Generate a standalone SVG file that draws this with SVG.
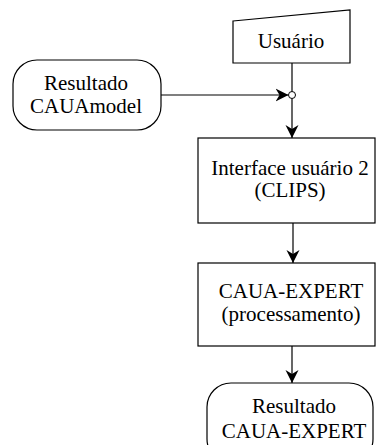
<svg xmlns="http://www.w3.org/2000/svg" width="376" height="445" viewBox="0 0 376 445">
<style>
.s{fill:#fff;stroke:#000;stroke-width:1.2}
.t{font-family:'Liberation Serif','DejaVu Serif',serif;font-size:21px;fill:#000;text-anchor:middle}
.c{fill:none;stroke:#000;stroke-width:1.2}
</style>
<defs>
<marker id="a" markerWidth="14" markerHeight="14" refX="13" refY="7" orient="auto" markerUnits="userSpaceOnUse" viewBox="0 0 14 14">
<path d="M0,0.5 L13,7 L0,13.5 L4,7 Z" fill="#000"/>
</marker>
</defs>
<g id="connectors">
<line class="c" x1="292" y1="63" x2="292" y2="91.5"/>
<line class="c" x1="161" y1="95" x2="288.5" y2="95" marker-end="url(#a)"/>
<line class="c" x1="292" y1="98.5" x2="292" y2="138" marker-end="url(#a)"/>
<line class="c" x1="293" y1="223" x2="293" y2="263" marker-end="url(#a)"/>
<line class="c" x1="292" y1="346" x2="292" y2="383" marker-end="url(#a)"/>
<circle cx="292" cy="95" r="3.5" fill="#fff" stroke="#000" stroke-width="1"/>
</g>
<g id="usuario">
<path class="s" d="M233,21 L350,10 L350,63 L233,63 Z"/>
<text class="t" x="291" y="48">Usuário</text>
</g>
<g id="resultado-cauamodel">
<rect class="s" x="13" y="60" width="148" height="70" rx="24" ry="24"/>
<text class="t" x="86" y="90">Resultado</text>
<text class="t" x="86" y="113">CAUAmodel</text>
</g>
<g id="interface">
<rect class="s" x="198" y="138" width="177" height="85"/>
<text class="t" x="290" y="175">Interface usuário 2</text>
<text class="t" x="290" y="197">(CLIPS)</text>
</g>
<g id="caua-expert">
<rect class="s" x="198" y="263" width="177" height="83"/>
<text class="t" x="291" y="298">CAUA-EXPERT</text>
<text class="t" x="291" y="321">(processamento)</text>
</g>
<g id="resultado-caua-expert">
<rect class="s" x="207" y="383" width="166" height="80" rx="24" ry="24"/>
<text class="t" x="294" y="413">Resultado</text>
<text class="t" x="294" y="438">CAUA-EXPERT</text>
</g>
</svg>
